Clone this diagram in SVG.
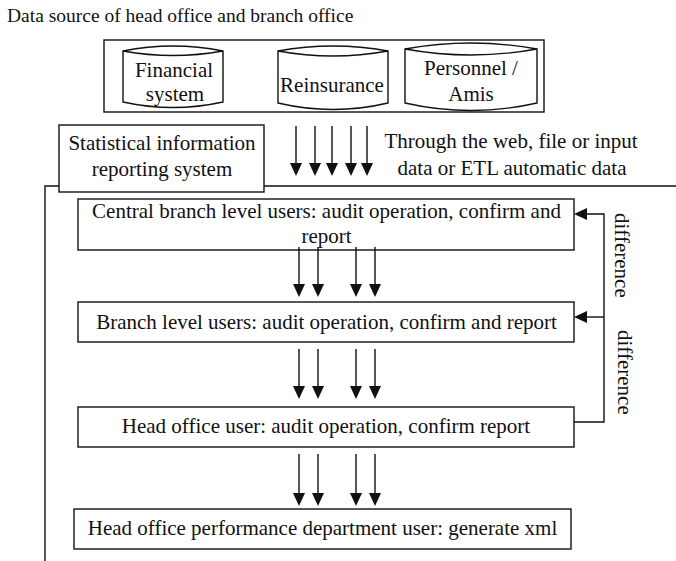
<svg xmlns="http://www.w3.org/2000/svg" width="676" height="561" viewBox="0 0 676 561">
  <style>
    .t { font-family: "Liberation Serif", "Times New Roman", serif; font-size: 21px; fill: #111; }
    .title { font-size: 19.5px; }
    .c { text-anchor: middle; }
    .box { fill: #fff; stroke: #111; stroke-width: 1.4; }
    .ln { fill: none; stroke: #111; stroke-width: 1.4; }
  </style>
  <defs>
    <marker id="ah" viewBox="0 0 13 12" refX="3" refY="6" markerWidth="13" markerHeight="12" markerUnits="userSpaceOnUse" orient="auto">
      <path d="M0,0 L13,6 L0,12 Z" fill="#111"/>
    </marker>
  </defs>

  <rect width="676" height="561" fill="#fff"/>

  <text class="t title" x="7" y="22">Data source of head office and branch office</text>

  <!-- data sources -->
  <g id="sources">
    <rect class="box" x="104" y="40" width="440" height="72"/>
    <g id="financial">
      <path class="box" d="M123,51 Q173,41 223,51 L223,102 Q173,113 123,102 Z"/>
      <path class="ln" d="M123,51 Q173,60 223,51"/>
      <text class="t c" x="174" y="77">Financial</text>
      <text class="t c" x="175" y="101">system</text>
    </g>
    <g id="reinsurance">
      <path class="box" d="M278,51 Q333,41 388,51 L388,103 Q333,116 278,103 Z"/>
      <path class="ln" d="M278,51 Q333,61 388,51"/>
      <text class="t c" x="332" y="92">Reinsurance</text>
    </g>
    <g id="personnel">
      <path class="box" d="M405,49 Q471,37 537,49 L537,103 Q471,118 405,103 Z"/>
      <path class="ln" d="M405,49 Q471,61 537,49"/>
      <text class="t c" x="471" y="75">Personnel /</text>
      <text class="t c" x="471" y="101">Amis</text>
    </g>
  </g>

  <!-- system boundary -->
  <path class="ln" d="M676,186 L45,186 L45,561"/>

  <g id="stat-system">
    <rect class="box" x="59" y="125" width="205" height="67"/>
    <text class="t c" x="162" y="150">Statistical information</text>
    <text class="t c" x="162" y="176">reporting system</text>
  </g>

  <text class="t c" x="511" y="148">Through the web, file or input</text>
  <text class="t c" x="512" y="175">data or ETL automatic data</text>

  <g id="central-branch">
    <rect class="box" x="78" y="199" width="496" height="51"/>
    <text class="t c" x="326.5" y="218">Central branch level users: audit operation, confirm and</text>
    <text class="t c" x="326.5" y="243">report</text>
  </g>

  <g id="branch">
    <rect class="box" x="78" y="302" width="496" height="40"/>
    <text class="t c" x="326.5" y="329">Branch level users: audit operation, confirm and report</text>
  </g>

  <g id="head-office">
    <rect class="box" x="78" y="407" width="496" height="40"/>
    <text class="t c" x="326" y="433">Head office user: audit operation, confirm report</text>
  </g>

  <g id="performance">
    <rect class="box" x="74" y="509" width="497" height="40"/>
    <text class="t c" x="322.5" y="535">Head office performance department user: generate xml</text>
  </g>

  <g id="connectors" class="ln" marker-end="url(#ah)">
    <!-- sources to reporting system -->
    <path d="M296,126 V166"/>
    <path d="M315,126 V166"/>
    <path d="M332,126 V166"/>
    <path d="M351,126 V166"/>
    <path d="M367,126 V166"/>
    <!-- central branch to branch -->
    <path d="M299,247 V287"/>
    <path d="M318,247 V287"/>
    <path d="M356,247 V287"/>
    <path d="M375,247 V287"/>
    <!-- branch to head office -->
    <path d="M299,349 V389"/>
    <path d="M318,349 V389"/>
    <path d="M356,349 V389"/>
    <path d="M375,349 V389"/>
    <!-- head office to performance department -->
    <path d="M299,454 V496"/>
    <path d="M318,454 V496"/>
    <path d="M356,454 V496"/>
    <path d="M375,454 V496"/>
    <!-- difference feedback -->
    <path d="M574,422 H604 V214 H584"/>
    <path d="M604,317 H584"/>
  </g>

  <text class="t" transform="translate(615,213) rotate(90)">difference</text>
  <text class="t" transform="translate(618,330) rotate(90)">difference</text>
</svg>
